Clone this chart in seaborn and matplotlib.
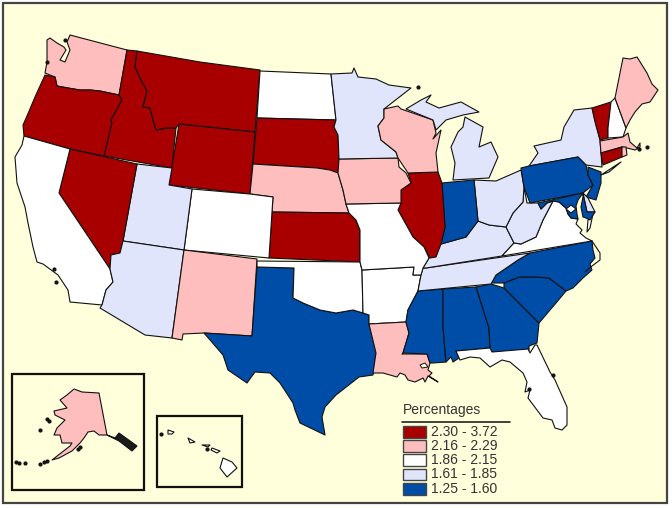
import matplotlib
matplotlib.use("Agg")
import matplotlib.pyplot as plt
from matplotlib.patches import Rectangle, Polygon
import seaborn as sns

sns.set_theme(style="white")
plt.rcParams["font.family"] = ["Liberation Sans", "DejaVu Sans"]

legend_title = "Percentages"
class_labels = ["2.30 - 3.72", "2.16 - 2.29", "1.86 - 2.15", "1.61 - 1.85", "1.25 - 1.60"]
class_colors = ["#A80000", "#FFBEBE", "#FFFFFF", "#E1E5FB", "#004DA8"]
palette = sns.color_palette(class_colors)
BG = "#FFFFDC"
EDGE = "#111111"

# class index per state
state_class = {
    "WA": 1, "OR": 0, "ID": 0, "MT": 0, "WY": 0, "ND": 2, "SD": 0, "NE": 1, "KS": 0, "CO": 2,
    "UT": 3, "NV": 0, "CA": 2, "AZ": 3, "NM": 1, "TX": 4, "OK": 2, "AR": 2, "LA": 1, "MS": 4,
    "AL": 4, "GA": 4, "FL": 2, "SC": 4, "NC": 4, "TN": 3, "KY": 3, "VA": 2, "VA2": 2, "WV": 3, "OH": 3,
    "IN": 4, "IL": 0, "MO": 2, "IA": 1, "MN": 3, "WI": 1, "MI": 3, "MI2": 3, "NY": 3, "LI": 3,
    "PA": 4, "NJ": 4, "DE": 3, "MD": 4, "MD2": 4, "DC": 2, "VT": 0, "NH": 2, "ME": 1, "MA": 1,
    "CT": 0, "RI": 1, "AK": 1, "HI1": 2, "HI2": 2, "HI3": 2, "HI4": 2, "HI5": 2,
}

# state outlines in the map's own pixel grid
outlines = {
    "WA": [(47,40),(50,38),(57,43),(64,47),(66,50),(60,60),(65,62),(70,50),(67,42),(70,35),(127,50),(119,95),(100,91),(90,90),(80,90),(68,88),(57,86),(55,77),(45,73),(47,62)],
    "OR": [(45,75),(55,77),(57,86),(68,88),(80,90),(90,90),(100,91),(119,95),(122,100),(111,120),(112,123),(104,156),(70,149),(24,136),(23,125),(27,116),(35,97)],
    "ID": [(127,50),(137,51),(135,67),(140,78),(147,91),(143,107),(150,108),(153,120),(156,130),(166,128),(176,128),(172,168),(104,156),(112,123),(111,120),(122,100),(119,95)],
    "MT": [(137,51),(200,62),(260,70),(255,132),(179,124),(176,128),(166,128),(156,130),(153,120),(150,108),(143,107),(147,91),(140,78),(135,67)],
    "WY": [(179,124),(255,132),(250,194),(169,185)],
    "ND": [(260,71),(331,74),(336,120),(257,118)],
    "SD": [(257,118),(336,120),(334,127),(338,135),(339,159),(338,173),(330,170),(317,168),(253,164)],
    "NE": [(253,164),(317,168),(330,170),(338,173),(343,190),(346,204),(349,213),(272,212),(273,197),(250,194)],
    "KS": [(272,212),(349,213),(356,220),(360,230),(360,262),(269,258)],
    "CO": [(192,189),(250,194),(273,197),(272,212),(269,258),(184,250)],
    "UT": [(137,164),(172,168),(169,185),(192,189),(184,250),(123,241)],
    "NV": [(70,149),(137,164),(123,241),(120,253),(111,255),(110,269),(59,193)],
    "CA": [(24,136),(70,149),(59,193),(110,269),(113,282),(106,290),(102,305),(70,302),(68,290),(58,275),(43,264),(37,262),(33,247),(28,223),(25,207),(17,183),(15,157),(22,145)],
    "AZ": [(123,241),(184,250),(172,338),(145,335),(100,308),(102,305),(106,290),(113,282),(110,269),(111,255),(120,253)],
    "NM": [(184,250),(257,259),(252,336),(204,333),(183,334),(182,340),(172,338)],
    "TX": [(257,267),(294,268),(293,298),(303,303),(320,310),(336,313),(353,310),(369,315),(369,324),(376,353),(373,375),(359,377),(345,388),(336,395),(325,407),(322,417),(325,435),(300,423),(295,410),(293,403),(280,383),(270,373),(255,372),(247,383),(228,370),(223,355),(204,333),(252,336)],
    "OK": [(257,261),(360,262),(362,270),(363,313),(353,310),(336,313),(320,310),(303,303),(293,298),(294,268),(257,267)],
    "AR": [(362,270),(414,267),(413,275),(421,275),(418,291),(408,310),(406,322),(369,324),(369,315),(363,313)],
    "LA": [(369,324),(406,322),(409,333),(403,353),(402,354),(427,354),(430,363),(428,370),(432,373),(429,376),(438,382),(428,376),(425,382),(423,378),(415,382),(408,380),(405,375),(400,373),(397,377),(383,373),(373,373),(376,353)],
    "MS": [(418,291),(443,289),(443,327),(446,362),(433,363),(430,363),(427,354),(403,353),(409,333),(406,322),(408,310)],
    "AL": [(443,289),(476,287),(489,328),(490,348),(456,351),(459,358),(453,362),(451,357),(446,362),(443,327)],
    "GA": [(476,287),(491,284),(504,288),(539,323),(537,343),(529,346),(529,352),(492,352),(490,348),(489,328)],
    "FL": [(456,351),(490,348),(492,352),(528,349),(530,353),(535,345),(537,345),(550,372),(555,380),(567,407),(567,425),(562,430),(555,428),(552,420),(543,418),(537,410),(528,398),(530,390),(525,392),(527,382),(523,373),(510,362),(502,360),(490,367),(480,358),(470,357),(460,360)],
    "SC": [(504,283),(519,277),(536,277),(549,278),(566,291),(556,303),(539,323),(504,288)],
    "NC": [(491,283),(496,275),(518,260),(530,253),(592,241),(593,250),(595,258),(590,264),(592,270),(583,278),(573,288),(566,291),(549,278),(536,277),(519,277),(504,283)],
    "TN": [(418,291),(421,275),(423,268),(426,268),(530,253),(518,260),(496,275),(491,284)],
    "KY": [(423,268),(429,258),(441,244),(466,237),(478,221),(489,225),(506,227),(514,243),(502,256),(426,268)],
    "VA": [(502,256),(514,243),(521,244),(536,237),(543,220),(553,201),(559,202),(566,208),(568,214),(571,218),(578,219),(576,224),(582,230),(580,233),(586,238),(592,241)],
    "VA2": [(593,214),(590,228),(587,232),(588,220)],
    "WV": [(506,227),(513,213),(523,202),(524,187),(527,203),(538,203),(541,209),(547,203),(553,201),(543,220),(536,237),(521,244),(514,243)],
    "OH": [(474,180),(496,181),(521,170),(524,187),(523,202),(513,213),(506,227),(489,225),(478,221)],
    "IN": [(442,183),(474,180),(478,221),(466,237),(441,244),(445,227)],
    "IL": [(408,173),(438,172),(442,183),(445,227),(441,244),(436,257),(430,258),(424,247),(413,237),(398,210),(401,190),(411,183)],
    "MO": [(346,204),(401,203),(398,210),(413,237),(424,247),(429,258),(423,268),(421,275),(413,275),(414,267),(362,270),(360,262),(360,230),(356,220),(349,213)],
    "IA": [(339,159),(398,158),(399,167),(406,173),(411,183),(401,190),(401,203),(346,204),(343,190),(338,173)],
    "MN": [(331,74),(352,73),(354,68),(358,77),(376,79),(389,85),(411,88),(384,109),(384,118),(378,126),(381,140),(396,152),(398,158),(339,159),(338,135),(334,127),(336,120)],
    "WI": [(384,109),(398,106),(401,109),(433,120),(436,133),(433,139),(441,130),(436,153),(438,172),(408,173),(398,158),(396,152),(381,140),(378,126),(384,118)],
    "MI": [(406,109),(421,100),(431,95),(426,102),(439,108),(461,102),(479,112),(463,115),(446,120),(436,130),(434,123),(433,120)],
    "MI2": [(465,117),(483,127),(479,147),(491,142),(498,157),(489,178),(453,180),(455,163),(451,147),(458,132),(463,127)],
    "NY": [(529,166),(538,153),(534,146),(561,140),(564,127),(574,110),(592,108),(600,140),(601,153),(602,167),(586,165),(578,157)],
    "LI": [(601,175),(621,162),(609,172)],
    "PA": [(521,168),(529,166),(578,157),(586,165),(588,175),(593,185),(583,193),(530,203),(524,187)],
    "NJ": [(588,167),(601,172),(601,183),(596,200),(586,197),(593,185),(588,175)],
    "DE": [(583,193),(588,198),(595,212),(587,212)],
    "MD": [(538,203),(583,193),(578,200),(576,206),(577,214),(578,219),(571,218),(568,214),(566,208),(559,202),(553,201),(547,203),(541,209)],
    "MD2": [(583,194),(587,212),(595,212),(590,220),(586,218),(583,217),(581,207),(583,197)],
    "DC": [(566,209),(571,205),(576,209),(571,213)],
    "VT": [(592,108),(611,102),(608,128),(608,138),(600,140),(595,122)],
    "NH": [(611,102),(615,98),(626,128),(623,137),(608,138),(608,128)],
    "ME": [(615,98),(623,58),(630,59),(637,57),(647,73),(652,84),(658,90),(650,102),(642,104),(635,112),(630,120),(626,128)],
    "MA": [(600,141),(623,137),(628,133),(630,142),(637,148),(640,143),(640,147),(635,150),(627,148),(622,147),(601,153)],
    "CT": [(601,153),(622,147),(622,157),(603,165)],
    "RI": [(622,147),(626,147),(627,155),(622,157)],
    "AK": [(74,389),(82,392),(99,393),(107,435),(99,435),(94,431),(88,432),(84,438),(80,443),(72,451),(59,458),(52,460),(70,446),(72,443),(62,443),(60,435),(54,435),(57,428),(65,420),(55,415),(54,411),(67,408),(60,400),(67,395)],
    "HI1": [(223,458),(232,462),(237,468),(227,477),(220,468)],
    "HI2": [(212,448),(220,451),(217,453),(211,450)],
    "HI3": [(188,438),(195,442),(190,443)],
    "HI4": [(168,430),(174,432),(172,434),(168,434)],
    "HI5": [(202,445),(210,445),(208,447)],
}
ak_panhandle = [(107,435),(115,438),(119,433),(137,446),(132,451),(119,441)]
outer_banks = [(592,241),(600,253),(600,260),(592,266),(585,272)]
small_islands = [(418,87),(639,149),(647,147),(65,40),(47,419),(49,421),(40,430),(80,447),(78,449),(16,462),(19,463),(25,463),(40,464),(44,462),(47,461),(54,269),(56,282),(161,434),(207,449),(553,375),(529,389),(47,62)]
lake_pontchartrain = [(420,365),(425,363),(428,367),(422,368)]

fig = plt.figure(figsize=(6.72, 5.08), dpi=100, facecolor="white")
ax = fig.add_axes([0, 0, 1, 1])
ax.set_xlim(0, 672)
ax.set_ylim(508, 0)
ax.axis("off")

ax.add_patch(Rectangle((3, 3), 664, 500, fc=BG, ec="#444444", lw=1.6, zorder=0))
ax.add_patch(Rectangle((12, 374), 132, 116, fc="none", ec="#111111", lw=1.6, zorder=1))
ax.add_patch(Rectangle((157, 416), 85, 71, fc="none", ec="#111111", lw=1.6, zorder=1))

for name, pts in outlines.items():
    ax.add_patch(Polygon(pts, closed=True, fc=palette[state_class[name]], ec=EDGE, lw=0.8, joinstyle="round", zorder=3))
ax.add_patch(Polygon(lake_pontchartrain, closed=True, fc=BG, ec=EDGE, lw=0.7, zorder=4))
ax.add_patch(Polygon(ak_panhandle, closed=True, fc="#1a1a1a", ec=EDGE, lw=0.8, zorder=4))

xs, ys = zip(*outer_banks)
ax.plot(xs, ys, color=EDGE, lw=0.8, zorder=4)
xs, ys = zip(*small_islands)
ax.plot(xs, ys, ls="none", marker="o", ms=2.0, mfc="#111111", mec="#111111", zorder=4)

ax.text(402.5, 410, legend_title, fontsize=10, color="#333333", ha="left", va="center")
ax.plot([402, 510], [422, 422], color="#222222", lw=1.2)
swatch_y = [426, 440, 454, 468.5, 483]
for y, lab, col in zip(swatch_y, class_labels, palette):
    ax.add_patch(Rectangle((402.5, y), 23, 11.5, fc=col, ec="#444444", lw=1.0, zorder=3))
    ax.text(431, y + 6, lab, fontsize=10, color="#333333", ha="left", va="center")

fig.savefig("out.png", dpi=100, facecolor="white")
